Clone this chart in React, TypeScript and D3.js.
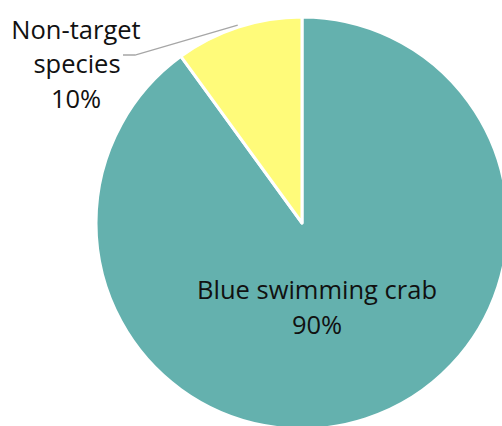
import React from "react";
import * as d3 from "d3";

const categories = ["Blue swimming crab", "Non-target species"];
const values = [90, 10];
const percentLabels = ["90%", "10%"];
const colors = ["#64B1AE", "#FFFB7A"];

const W = 502;
const H = 426;
const cx = 302;
const cy = 223;
const R = 206;
const FONT = "'Open Sans', sans-serif";

export default function App() {
  const pie = d3.pie<number>().sort(null).value((d) => d);
  const arcs = pie(values);
  const arcGen = d3.arc<d3.PieArcDatum<number>>().innerRadius(0).outerRadius(R);

  const small = arcs[1];
  const midSmall = (small.startAngle + small.endAngle) / 2;
  const lineEnd: [number, number] = [Math.sin(midSmall) * (R + 2), -Math.cos(midSmall) * (R + 2)];

  return (
    <svg
      width={W}
      height={H}
      style={{ position: "absolute", left: 0, top: 0, background: "#fff" }}
    >
      <g transform={`translate(${cx},${cy})`}>
        {arcs.map((a, i) => (
          <path key={i} d={arcGen(a) || ""} fill={colors[i]} stroke="#fff" strokeWidth={3} strokeLinejoin="round" />
        ))}
        <polyline
          points={`${123 - cx},${55 - cy} ${135 - cx},${55 - cy} ${lineEnd[0]},${lineEnd[1]}`}
          fill="none"
          stroke="#A6A6A6"
          strokeWidth={1.3}
        />
      </g>
      <g fontFamily={FONT} fontSize={25.5} fill="#111" textAnchor="middle">
        <text x={317} y={299}>{categories[0]}</text>
        <text x={317} y={334}>{percentLabels[0]}</text>
        <text x={76} y={39}>Non-target</text>
        <text x={77} y={73}>species</text>
        <text x={76} y={108}>{percentLabels[1]}</text>
      </g>
    </svg>
  );
}
